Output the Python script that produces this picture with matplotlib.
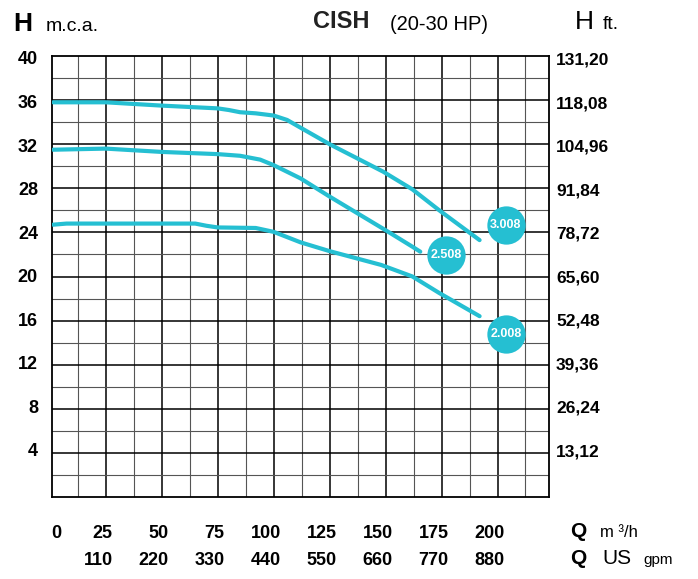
import matplotlib
matplotlib.use('Agg')
import matplotlib.pyplot as plt
import matplotlib.transforms as mtransforms
import numpy as np

# pump curves, Q in m3/h, H in m.c.a.
q_3008 = [1.5, 25, 50, 75, 80, 85, 92, 100, 106, 112, 125, 149, 162, 174, 192]
h_3008 = [35.8, 35.8, 35.5, 35.25, 35.1, 34.9, 34.8, 34.6, 34.2, 33.5, 32.0, 29.5, 27.9, 26.0, 23.3]

q_2508 = [1.5, 25, 50, 75, 85, 94, 100, 112, 125, 150, 162, 165.5]
h_2508 = [31.5, 31.6, 31.3, 31.1, 30.95, 30.6, 30.1, 28.9, 27.25, 24.2, 22.7, 22.25]

q_2008 = [1.5, 7.5, 65, 70, 75, 92, 100, 112, 125, 148, 162, 174, 192]
h_2008 = [24.7, 24.8, 24.8, 24.6, 24.45, 24.4, 24.05, 23.1, 22.3, 21.05, 20.0, 18.5, 16.4]

# model labels (bubbles)
model_names = ['3.008', '2.508', '2.008']
model_q = [203.7, 177.2, 203.7]
model_h = [24.7, 21.95, 14.75]

h_ticks = [4, 8, 12, 16, 20, 24, 28, 32, 36, 40]
ft_labels = ['13,12', '26,24', '39,36', '52,48', '65,60', '78,72', '91,84', '104,96', '118,08', '131,20']
q_ticks = [0, 25, 50, 75, 100, 125, 150, 175, 200]
gpm_labels = ['', '110', '220', '330', '440', '550', '660', '770', '880']

CYAN = '#25BFD2'
W, H = 698, 579

plt.rcParams['font.family'] = ['Liberation Sans', 'DejaVu Sans']
NARROW = ['Liberation Sans Narrow', 'Liberation Sans', 'DejaVu Sans']

fig = plt.figure(figsize=(W / 100, H / 100), dpi=100)
left, right, top, bottom = 52, 549, 56, 497
ax = fig.add_axes([left / W, 1 - bottom / H, (right - left) / W, (bottom - top) / H])
ax.set_xlim(1.0, 223.0)
ax.set_ylim(0, 40)

# grid: thin every 12.5 m3/h / 2 m, bold every 25 / 4
for k in range(1, 18):
    q = 12.5 * k
    if k % 2 == 0:
        ax.axvline(q, color='black', lw=1.1, zorder=1)
    else:
        ax.axvline(q, color='#555555', lw=0.8, zorder=1)
for k in range(1, 20):
    h = 2 * k
    if k % 2 == 0:
        ax.axhline(h, color='black', lw=1.1, zorder=1)
    else:
        ax.axhline(h, color='#555555', lw=0.8, zorder=1)
for s in ax.spines.values():
    s.set_linewidth(1.3)
ax.set_xticks([])
ax.set_yticks([])

for qs, hs in [(q_3008, h_3008), (q_2508, h_2508), (q_2008, h_2008)]:
    ax.plot(qs, hs, color=CYAN, lw=3.0, solid_capstyle='round', zorder=3)

ax.scatter(model_q, model_h, s=760, color=CYAN, zorder=4, clip_on=False, linewidths=0)
for name, q, h in zip(model_names, model_q, model_h):
    ax.text(q, h, name, color='white', fontsize=9, fontweight='bold', family=NARROW,
            ha='center', va='center', zorder=5)

# left / right axis labels (printed labels drift a little below the lines near the top)
ly = mtransforms.blended_transform_factory(fig.transFigure, ax.transData)
for h, ft in zip(h_ticks, ft_labels):
    dy = -(h - 12) / 28 * 4 / 100
    tr = ly + mtransforms.ScaledTranslation(0, dy, fig.dpi_scale_trans)
    fig.text(38 / W, h, str(h), transform=tr, ha='right', va='center',
             fontsize=13, fontweight='bold')
    fig.text(556 / W, h, ft, transform=tr, ha='left', va='center',
             fontsize=12.5, fontweight='bold')

# bottom labels
lx = mtransforms.blended_transform_factory(ax.transData, fig.transFigure)
for q, g in zip(q_ticks, gpm_labels):
    off = 12 if q == 0 else 7
    tr = lx + mtransforms.ScaledTranslation(off / 100, 0, fig.dpi_scale_trans)
    fig.text(q, 1 - 538 / H, str(q), transform=tr, ha='right', va='baseline',
             fontsize=13, fontweight='bold')
    if g:
        fig.text(q, 1 - 565 / H, g, transform=tr, ha='right', va='baseline',
                 fontsize=13, fontweight='bold')

# header
fig.text(13 / W, 1 - 31 / H, 'H', fontsize=19, fontweight='bold', va='baseline')
fig.text(46 / W, 1 - 31 / H, 'm.c.a.', fontsize=14, family=NARROW, va='baseline')
fig.text(313 / W, 1 - 28 / H, 'CISH', fontsize=17, fontweight='bold', family=NARROW,
         color='#222222', va='baseline')
fig.text(390 / W, 1 - 30 / H, '(20-30 HP)', fontsize=14.5, family=NARROW, va='baseline')
fig.text(575 / W, 1 - 29 / H, 'H', fontsize=19, va='baseline')
fig.text(603 / W, 1 - 29 / H, 'ft.', fontsize=14, family=NARROW, va='baseline')

# flow units
fig.text(570 / W, 1 - 537 / H, 'Q', fontsize=15, fontweight='bold', va='baseline')
fig.text(600 / W, 1 - 537 / H, 'm \u00b3/h', fontsize=12, family=NARROW, va='baseline')
fig.text(570 / W, 1 - 564 / H, 'Q', fontsize=15, fontweight='bold', va='baseline')
fig.text(602 / W, 1 - 564 / H, 'US', fontsize=15, family=NARROW, va='baseline')
fig.text(643 / W, 1 - 564 / H, 'gpm', fontsize=11, family=NARROW, va='baseline')

fig.savefig('out.png', dpi=100)
